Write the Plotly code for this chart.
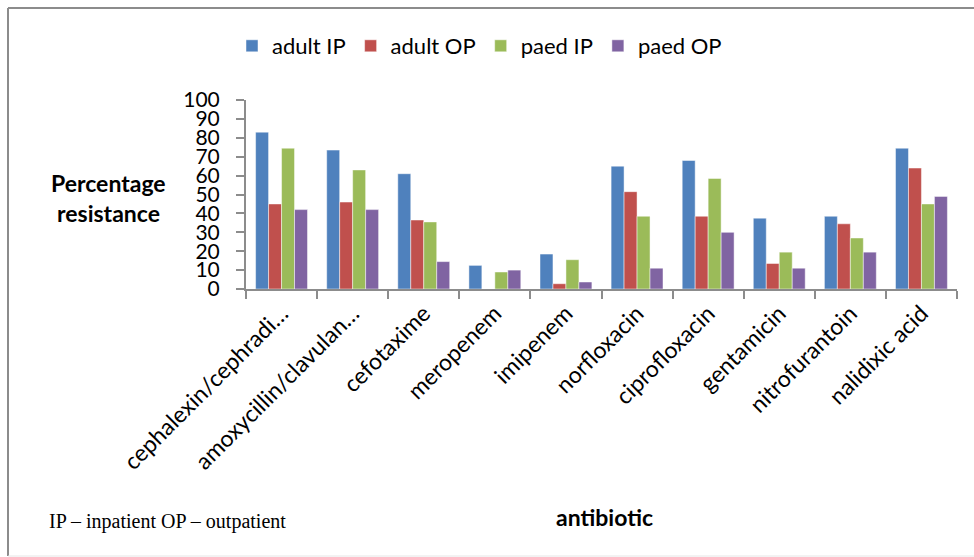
import plotly.graph_objects as go

categories = ["cephalexin/cephradi…", "amoxycillin/clavulan…", "cefotaxime", "meropenem",
              "imipenem", "norfloxacin", "ciprofloxacin", "gentamicin", "nitrofurantoin",
              "nalidixic acid"]
adult_ip = [83, 73.5, 61, 12.5, 18.5, 65, 68, 37.5, 38.5, 74.5]
adult_op = [45, 46, 36.5, 0, 2.8, 51.5, 38.5, 13.5, 34.5, 64]
paed_ip = [74.5, 63, 35.5, 9, 15.5, 38.5, 58.5, 19.5, 27, 45]
paed_op = [42, 42, 14.5, 10, 3.7, 11, 30, 11, 19.5, 49]
yticks = list(range(0, 101, 10))

series = [("adult IP", adult_ip, "#4F81BD"), ("adult OP", adult_op, "#C0504D"),
          ("paed IP", paed_ip, "#9BBB59"), ("paed OP", paed_op, "#8064A2")]

W, H = 974, 557
L, R, T, B = 246, 17, 100, 268
pw, ph = W - L - R, H - T - B

def px(x):
    return (x - L) / pw

def py(y):
    return (H - B - y) / ph

fig = go.Figure()
for name, vals, col in series:
    fig.add_trace(go.Bar(name=name, x=categories, y=vals, marker_color=col,
                         marker_line=dict(color="rgba(255,255,255,0.6)", width=0.8)))

font = "Lato, Open Sans, sans-serif"
fig.update_layout(
    width=W, height=H, margin=dict(l=L, r=R, t=T, b=B, autoexpand=False),
    paper_bgcolor="white", plot_bgcolor="white",
    barmode="group", bargap=0.27, bargroupgap=0,
    font=dict(family=font, size=22, color="black"),
    showlegend=True,
    legend=dict(orientation="h", x=px(232), y=py(46), xanchor="left", yanchor="middle",
                font=dict(size=22), itemwidth=30, traceorder="normal"),
    xaxis=dict(showline=True, linecolor="#8c8c8c", linewidth=2, ticks="outside",
               tickson="boundaries", ticklen=8, tickcolor="#8c8c8c", tickwidth=2,
               tickangle=-45, tickfont=dict(size=23), showgrid=False),
    yaxis=dict(range=[0, 100], tickvals=yticks, showline=True, linecolor="#8c8c8c",
               linewidth=2, ticks="outside", ticklen=8, tickcolor="#8c8c8c", tickwidth=2,
               tickfont=dict(size=21), showgrid=False, zeroline=False,
               ticklabelstandoff=12),
)

fig.add_annotation(text="<b>Percentage</b>", x=px(108), y=py(183), xref="paper", yref="paper",
                   showarrow=False, font=dict(size=23, family=font), xanchor="center", yanchor="middle")
fig.add_annotation(text="<b>resistance</b>", x=px(108), y=py(213), xref="paper", yref="paper",
                   showarrow=False, font=dict(size=23, family=font), xanchor="center", yanchor="middle")
fig.add_annotation(text="<b>antibiotic</b>", x=px(604), y=py(517), xref="paper", yref="paper",
                   showarrow=False, font=dict(size=23, family=font), xanchor="center", yanchor="middle")
fig.add_annotation(text="IP – inpatient OP – outpatient", x=px(47), y=py(521), xref="paper",
                   yref="paper", showarrow=False,
                   font=dict(size=20, family="Liberation Serif, Times New Roman, serif"),
                   xanchor="left", yanchor="middle")

frame = dict(color="#8c8c8c", width=2)
fig.add_shape(type="line", xref="paper", yref="paper", x0=px(8), x1=px(974), y0=py(8), y1=py(8), line=frame)
fig.add_shape(type="line", xref="paper", yref="paper", x0=px(8), x1=px(8), y0=py(8), y1=py(556), line=frame)
fig.add_shape(type="line", xref="paper", yref="paper", x0=px(8), x1=px(974), y0=py(556), y1=py(556),
              line=dict(color="#e6e6e6", width=1))

fig.write_html("out.html", config={"displayModeBar": False},
               post_script="document.body.style.margin='0px';")
